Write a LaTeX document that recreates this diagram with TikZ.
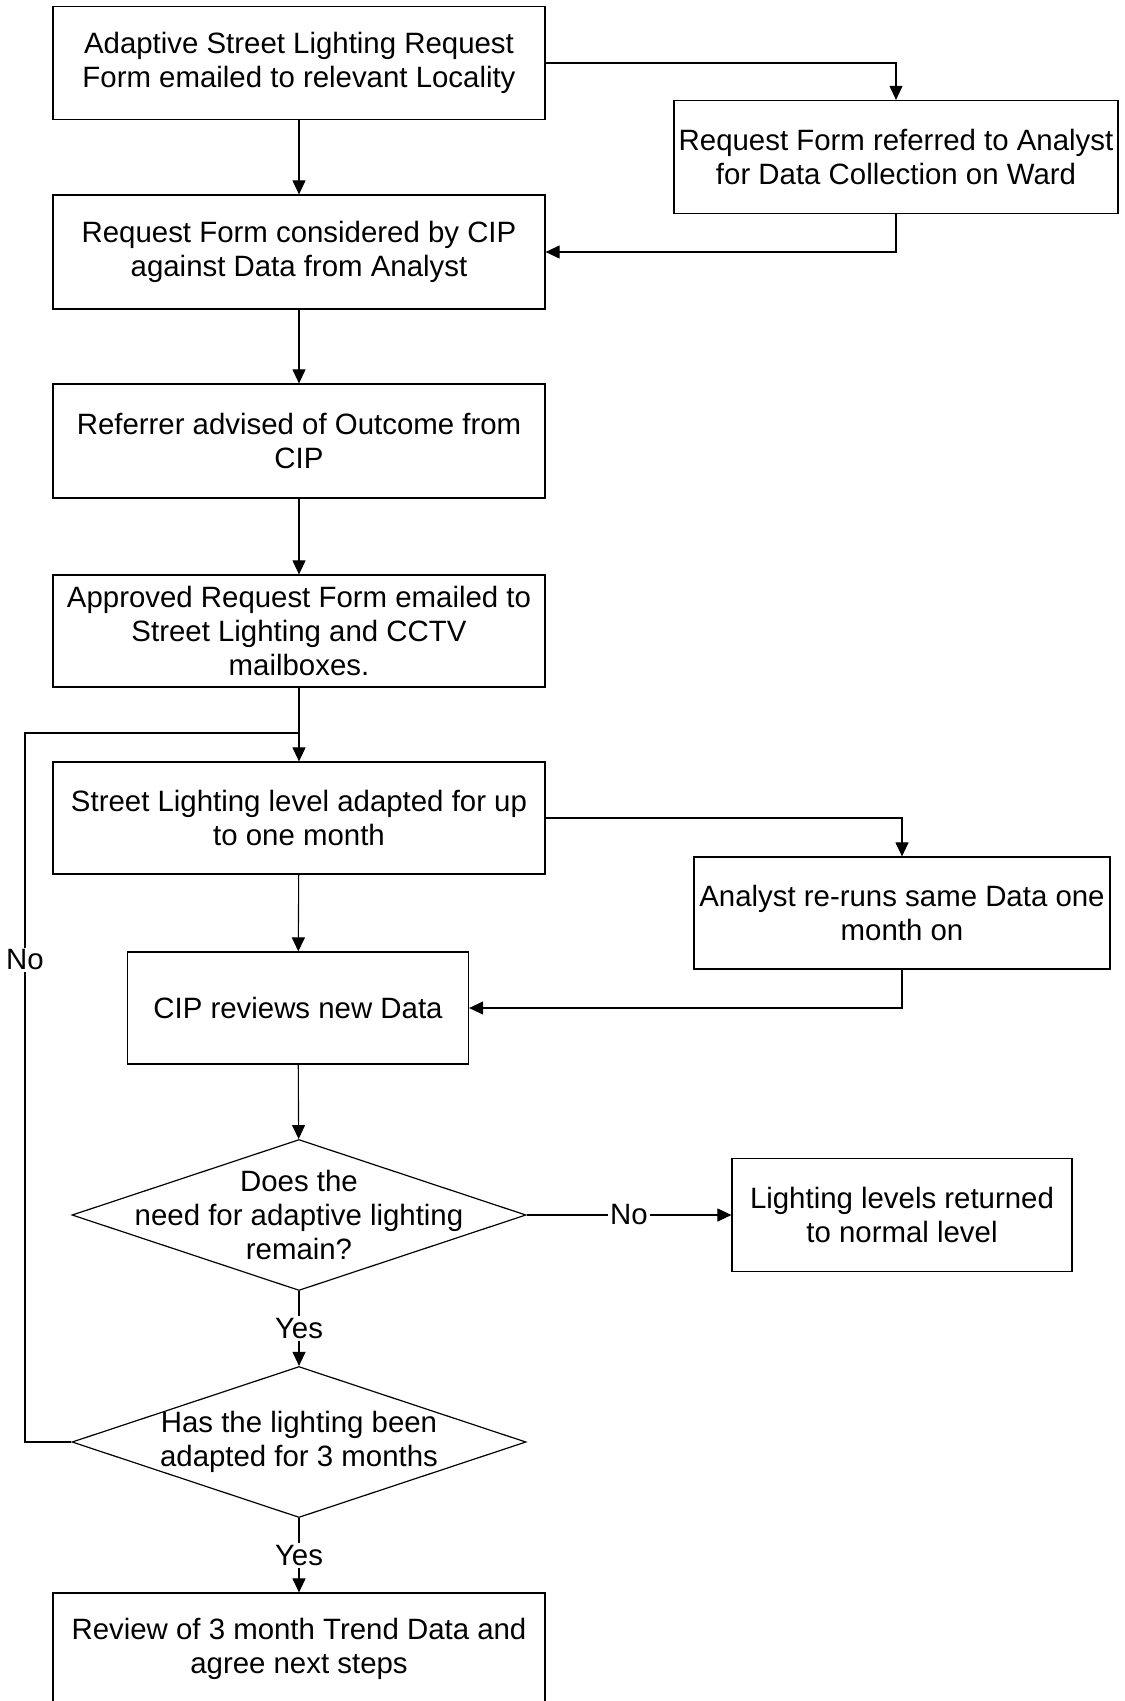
\documentclass[tikz,border=0pt]{standalone}
\usepackage{fontspec}
\setmainfont{Liberation Sans}
\usetikzlibrary{arrows.meta,shapes.geometric}

\tikzset{
    stepbox/.style={draw, line width=0.6pt, rectangle, align=center, inner sep=2pt,
        font=\fontsize{14.7}{16.9}\selectfont},
    decision/.style={draw, line width=0.6pt, diamond, inner sep=0pt, aspect=3,
        minimum width=227pt, minimum height=75.5pt},
    dtext/.style={align=center, font=\fontsize{14.7}{16.9}\selectfont},
    flow/.style={line width=0.55pt, -{Triangle[length=7pt,width=6.5pt]}},
    link/.style={line width=0.55pt},
    lbl/.style={fill=white, inner sep=1pt, font=\fontsize{14.7}{16.9}\selectfont}
}

\begin{document}
\begin{tikzpicture}[x=0.5pt, y=-0.5pt]
    % Page
    \useasboundingbox (0,0) rectangle (1124,1701);

    % Main column
    \node[stepbox, minimum width=246pt, minimum height=56.5pt] (form) at (299,63)
        {Adaptive Street Lighting Request\\Form emailed to relevant Locality};
    \node[stepbox, minimum width=246pt, minimum height=57pt] (consider) at (299,252)
        {Request Form considered by CIP\\against Data from Analyst};
    \node[stepbox, minimum width=246pt, minimum height=57pt] (advise) at (299,441)
        {Referrer advised of Outcome from\\CIP};
    \node[stepbox, minimum width=246pt, minimum height=56pt] (approve) at (299,631)
        {Approved Request Form emailed to\\Street Lighting and CCTV\\mailboxes.};
    \node[stepbox, minimum width=246pt, minimum height=56pt] (adapt) at (299,818)
        {Street Lighting level adapted for up\\to one month};
    \node[stepbox, minimum width=170.5pt, minimum height=56pt] (review) at (298,1008)
        {CIP reviews new Data};
    \node[decision] (need) at (299,1215) {};
    \node[dtext] at (need) {Does the\\need for adaptive lighting\\remain?};
    \node[decision] (months) at (299,1442) {};
    \node[dtext] at (months) {Has the lighting been\\adapted for 3 months};
    \node[stepbox, minimum width=246pt, minimum height=56pt] (trend) at (299,1649)
        {Review of 3 month Trend Data and\\agree next steps};

    % Right column
    \node[stepbox, minimum width=222pt, minimum height=56.5pt] (analyst) at (896,157)
        {Request Form referred to Analyst\\for Data Collection on Ward};
    \node[stepbox, minimum width=208pt, minimum height=56pt] (rerun) at (902,913)
        {Analyst re-runs same Data one\\month on};
    \node[stepbox, minimum width=170pt, minimum height=56.5pt] (normal) at (902,1215)
        {Lighting levels returned\\to normal level};

    % Loop points
    \coordinate (join) at (299,733);
    \coordinate (loop) at (25,733);

    % Arrows
    \draw[flow] (form) -- (consider);
    \draw[flow] (form.east) -| (analyst.north);
    \draw[flow] (analyst.south) |- (consider.east);
    \draw[flow] (consider) -- (advise);
    \draw[flow] (advise) -- (approve);
    \draw[flow] (approve) -- (adapt);
    \draw[flow] (adapt.east) -| (rerun.north);
    \draw[flow] (rerun.south) |- (review.east);
    \draw[flow] (adapt) -- (review);
    \draw[flow] (review) -- (need);
    \draw[flow] (need.east) -- node[lbl] {No} (normal.west);
    \draw[flow] (need.south) -- node[lbl] {Yes} (months.north);
    \draw[flow] (months.south) -- node[lbl] {Yes} (trend.north);
    \draw[link] (months.west) -- (months.west -| loop)
        -- node[lbl, pos=0.68] {No} (loop) -- (join);
\end{tikzpicture}
\end{document}
